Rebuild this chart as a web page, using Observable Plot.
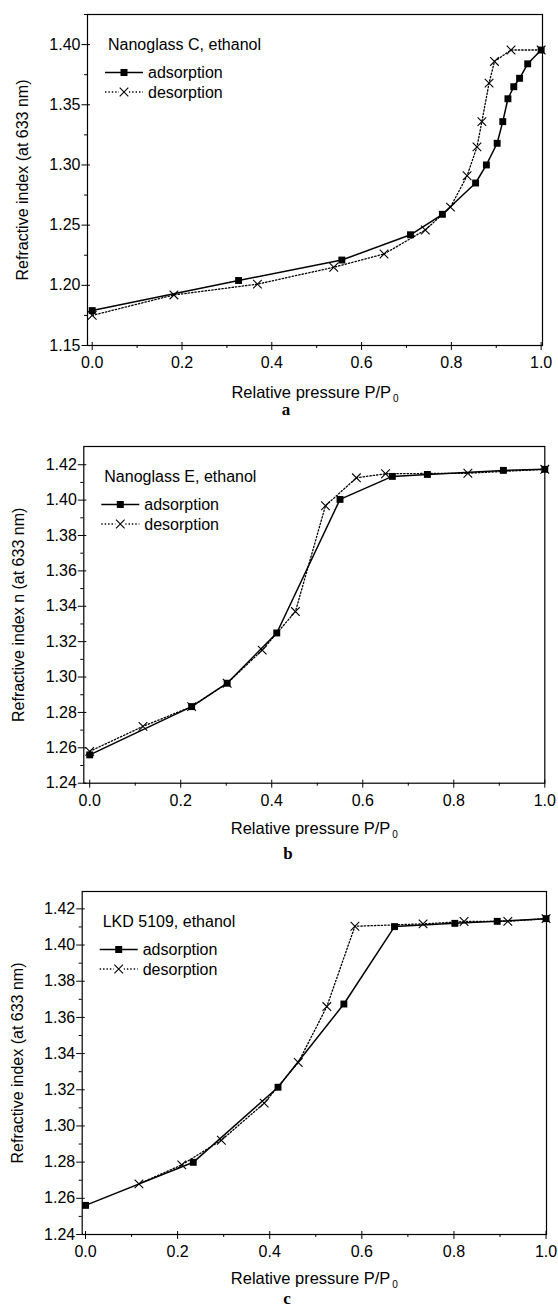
<!DOCTYPE html>
<html>
<head>
<meta charset="utf-8">
<script src="https://cdn.jsdelivr.net/npm/d3@7"></script>
<script src="https://cdn.jsdelivr.net/npm/@observablehq/plot@0.6"></script>
<style>
  body { margin: 0; background: #fff; }
  #wrap { position: relative; width: 558px; height: 1308px; background: #fff; font-family: "Liberation Sans", Arial, sans-serif; overflow: hidden; }
  .panel { position: absolute; left: 0; }
  .cap { position: absolute; font-family: "Liberation Serif", "Times New Roman", serif; font-weight: bold; font-size: 17px; line-height: 17px; height: 17px; transform: translateX(-50%); }
</style>
</head>
<body>
<div id="wrap"></div>
<script>
// ---------- data ----------
const xTicks = [0, 0.2, 0.4, 0.6, 0.8, 1.0];
const xMinor = [0.1, 0.3, 0.5, 0.7, 0.9];
const xLabelMain = "Relative pressure P/P";
const xLabelSub = "0";

// panel a: Nanoglass C, ethanol
const aTitle = "Nanoglass C, ethanol";
const aYLabel = "Refractive index (at 633 nm)";
const aYTicks = [1.15, 1.20, 1.25, 1.30, 1.35, 1.40];
const aYMinor = [1.175, 1.225, 1.275, 1.325, 1.375, 1.425];
const aAdsP = [0, 0.326, 0.556, 0.709, 0.780, 0.854, 0.878, 0.902, 0.9145, 0.926, 0.939, 0.952, 0.970, 1.0];
const aAdsN = [1.179, 1.204, 1.221, 1.242, 1.259, 1.285, 1.300, 1.318, 1.336, 1.355, 1.365, 1.372, 1.384, 1.3955];
const aDesP = [0, 0.182, 0.368, 0.538, 0.650, 0.742, 0.798, 0.835, 0.857, 0.868, 0.884, 0.896, 0.933, 1.0];
const aDesN = [1.175, 1.192, 1.201, 1.215, 1.226, 1.246, 1.265, 1.291, 1.315, 1.336, 1.368, 1.386, 1.3955, 1.3955];

// panel b: Nanoglass E, ethanol
const bTitle = "Nanoglass E, ethanol";
const bYLabel = "Refractive index n (at 633 nm)";
const bYTicks = [1.24, 1.26, 1.28, 1.30, 1.32, 1.34, 1.36, 1.38, 1.40, 1.42];
const bYMinor = [1.25, 1.27, 1.29, 1.31, 1.33, 1.35, 1.37, 1.39, 1.41];
const bAdsP = [0, 0.224, 0.302, 0.411, 0.550, 0.665, 0.742, 0.909, 1.0];
const bAdsN = [1.256, 1.2833, 1.2965, 1.3249, 1.4004, 1.4134, 1.4145, 1.4168, 1.4174];
const bDesP = [0, 0.117, 0.224, 0.302, 0.379, 0.452, 0.518, 0.586, 0.650, 0.831, 1.0];
const bDesN = [1.258, 1.2721, 1.2833, 1.2965, 1.3152, 1.337, 1.3968, 1.4126, 1.4149, 1.4152, 1.4174];

// panel c: LKD 5109, ethanol
const cTitle = "LKD 5109, ethanol";
const cYLabel = "Refractive index (at 633 nm)";
const cYTicks = [1.24, 1.26, 1.28, 1.30, 1.32, 1.34, 1.36, 1.38, 1.40, 1.42];
const cYMinor = [1.25, 1.27, 1.29, 1.31, 1.33, 1.35, 1.37, 1.39, 1.41];
const cAdsP = [0, 0.234, 0.418, 0.561, 0.671, 0.802, 0.894, 1.0];
const cAdsN = [1.2561, 1.2799, 1.3214, 1.3674, 1.4102, 1.4120, 1.4131, 1.4146];
const cDesP = [0.116, 0.209, 0.295, 0.388, 0.462, 0.524, 0.585, 0.733, 0.822, 0.917, 1.0];
const cDesN = [1.268, 1.2785, 1.2921, 1.3126, 1.3351, 1.3660, 1.4104, 1.4117, 1.4130, 1.4131, 1.4146];

const seriesNames = ["adsorption", "desorption"];
const captions = ["a", "b", "c"];

// ---------- drawing ----------
const FONT = "'Liberation Sans', Arial, sans-serif";
const DOTS = "1.4,2";

function legendMark(title) {
  return (index, scales, values, dims) => {
    const g = d3.create("svg:g")
      .attr("font-family", FONT).attr("font-size", 16).attr("fill", "#000")
      .attr("text-anchor", "start");
    const x0 = dims.marginLeft, y0 = dims.marginTop;
    g.append("text").attr("x", x0 + 21).attr("y", y0 + 30.5).attr("dy", "0.35em").text(title);
    const rows = [y0 + 58.5, y0 + 78];
    const sx = x0 + 37;
    g.append("line").attr("x1", x0 + 18).attr("x2", x0 + 56).attr("y1", rows[0]).attr("y2", rows[0])
      .attr("stroke", "#000").attr("stroke-width", 1.5);
    g.append("rect").attr("x", sx - 3.5).attr("y", rows[0] - 3.5).attr("width", 7).attr("height", 7).attr("fill", "#000");
    g.append("text").attr("x", x0 + 61).attr("y", rows[0]).attr("dy", "0.35em").text(seriesNames[0]);
    g.append("line").attr("x1", x0 + 18).attr("x2", x0 + 56).attr("y1", rows[1]).attr("y2", rows[1])
      .attr("stroke", "#000").attr("stroke-width", 1.3).attr("stroke-dasharray", DOTS);
    g.append("rect").attr("x", sx - 5).attr("y", rows[1] - 5).attr("width", 10).attr("height", 10).attr("fill", "#fff");
    g.append("path").attr("d", `M${sx - 4.3},${rows[1] - 4.3}L${sx + 4.3},${rows[1] + 4.3}M${sx - 4.3},${rows[1] + 4.3}L${sx + 4.3},${rows[1] - 4.3}`)
      .attr("stroke", "#000").attr("stroke-width", 1.1).attr("fill", "none");
    g.append("text").attr("x", x0 + 61).attr("y", rows[1]).attr("dy", "0.35em").text(seriesNames[1]);
    return g.node();
  };
}

function panel(o) {
  const ads = o.adsP.map((p, i) => ({p, n: o.adsN[i]}));
  const des = o.desP.map((p, i) => ({p, n: o.desN[i]}));
  const innerW = o.width - o.ml - o.mr;
  const innerH = o.height - o.mt - o.mb;
  const svg = Plot.plot({
    width: o.width, height: o.height,
    marginLeft: o.ml, marginRight: o.mr, marginTop: o.mt, marginBottom: o.mb,
    style: {fontFamily: FONT, fontSize: "16px", color: "#000", background: "#fff", overflow: "visible"},
    x: {domain: o.xDomain},
    y: {domain: o.yDomain},
    marks: [
      Plot.ruleX(xTicks, {x: d => d, insetTop: innerH - 3, stroke: "#000", strokeWidth: 1}),
      Plot.ruleY(o.yTicks, {y: d => d, insetRight: innerW - 3, stroke: "#000", strokeWidth: 1}),
      Plot.axisX({ticks: xTicks, tickSize: 5, tickPadding: 6, tickFormat: d3.format(".1f"),
        label: xLabelMain, labelAnchor: "center", labelArrow: "none", labelOffset: o.xLabelOffset}),
      Plot.axisX({ticks: xMinor, tickSize: 3, tickFormat: () => "", label: null}),
      Plot.axisY({ticks: o.yTicks, tickSize: 5.5, tickPadding: 1.5, tickFormat: d3.format(".2f"),
        label: o.ylabel, labelAnchor: "center", labelArrow: "none", labelOffset: 71}),
      Plot.axisY({ticks: o.yMinor, tickSize: 3, tickFormat: () => "", label: null}),
      Plot.frame({stroke: "#000", strokeWidth: 1.2}),
      Plot.line(des, {x: "p", y: "n", stroke: "#000", strokeWidth: 1.3, strokeDasharray: DOTS}),
      Plot.line(ads, {x: "p", y: "n", stroke: "#000", strokeWidth: 1.5}),
      Plot.dot(des, {x: "p", y: "n", symbol: "times", r: 4, stroke: "#000", strokeWidth: 1.1}),
      Plot.dot(ads, {x: "p", y: "n", symbol: "square", r: 3.9, fill: "#000", stroke: "none"}),
      legendMark(o.title)
    ]
  });
  // add the subscript 0 to the x-axis label
  d3.select(svg).selectAll("text").each(function () {
    if (this.textContent === xLabelMain && !this.querySelector("tspan")) {
      const t = d3.select(this);
      t.attr("font-size", 16.5);
      t.append("tspan").attr("dx", 2).attr("dy", "0.4em").attr("font-size", 10).text(xLabelSub);
    }
  });
  return svg;
}

const wrap = document.getElementById("wrap");
const specs = [
  {top: 0, width: 558, height: 400, ml: 87, mr: 16, mt: 14, mb: 55, xDomain: [-0.0105, 1.003], yDomain: [1.15, 1.425],
   yTicks: aYTicks, yMinor: aYMinor, adsP: aAdsP, adsN: aAdsN, desP: aDesP, desN: aDesN, title: aTitle, ylabel: aYLabel, xLabelOffset: 52,
   cap: [286, 415]},
  {top: 420, width: 558, height: 420, ml: 83.3, mr: 13.7, mt: 26, mb: 57.3, xDomain: [-0.013, 1.0], yDomain: [1.24, 1.4303],
   yTicks: bYTicks, yMinor: bYMinor, adsP: bAdsP, adsN: bAdsN, desP: bDesP, desN: bDesN, title: bTitle, ylabel: bYLabel, xLabelOffset: 51,
   cap: [288, 859]},
  {top: 860, width: 558, height: 430, ml: 81.7, mr: 12, mt: 31, mb: 56, xDomain: [-0.0072, 1.001], yDomain: [1.24, 1.4296],
   yTicks: cYTicks, yMinor: cYMinor, adsP: cAdsP, adsN: cAdsN, desP: cDesP, desN: cDesN, title: cTitle, ylabel: cYLabel, xLabelOffset: 49.7,
   cap: [287, 1304.5]}
];
specs.forEach((s, i) => {
  const div = document.createElement("div");
  div.className = "panel";
  div.style.top = s.top + "px";
  div.appendChild(panel(s));
  wrap.appendChild(div);
  const cap = document.createElement("div");
  cap.className = "cap";
  cap.style.left = s.cap[0] + "px";
  cap.style.top = (s.cap[1] - 14.2) + "px";
  cap.textContent = captions[i];
  wrap.appendChild(cap);
});
</script>
</body>
</html>
